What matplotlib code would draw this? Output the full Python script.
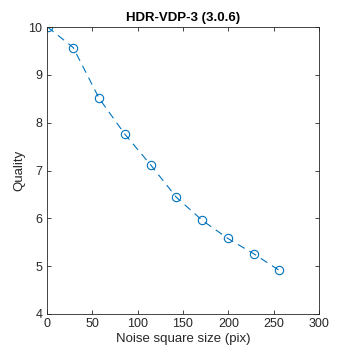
import matplotlib
matplotlib.use("Agg")
import matplotlib.pyplot as plt

noise_size = [1, 29.3, 57.7, 86, 114.3, 142.7, 171, 199.3, 227.7, 256]
quality = [10.0, 9.57, 8.51, 7.76, 7.12, 6.44, 5.96, 5.58, 5.26, 4.91]
x_ticks = [0, 50, 100, 150, 200, 250, 300]
y_ticks = [4, 5, 6, 7, 8, 9, 10]

plt.rcParams['font.family'] = ['Liberation Sans', 'DejaVu Sans']

fig = plt.figure(figsize=(3.54, 3.54), dpi=100)
ax = fig.add_axes([46.6/354, 1 - 314/354, (319.4 - 46.6)/354, (314 - 27)/354])
ax.plot(noise_size, quality, linestyle=(0, (7, 5)), color='#0072BD', linewidth=0.8,
        marker='o', markersize=6, markerfacecolor='none', markeredgewidth=0.8)
ax.set_xlim(0, 300)
ax.set_ylim(4, 10)
ax.set_xticks(x_ticks)
ax.set_yticks(y_ticks)
ax.tick_params(direction='in', length=3, width=0.6, top=True, right=True,
               labelsize=9, colors='#262626', pad=3)
for s in ax.spines.values():
    s.set_linewidth(0.6)
    s.set_color('#262626')
ax.set_xlabel('Noise square size (pix)', fontsize=9.5, color='#262626', labelpad=2)
ax.set_ylabel('Quality', fontsize=9.5, color='#262626', labelpad=2)
ax.set_title('HDR-VDP-3 (3.0.6)', fontsize=9.5, fontweight='bold', color='#000000', pad=4)
fig.savefig('out.png', dpi=100)
